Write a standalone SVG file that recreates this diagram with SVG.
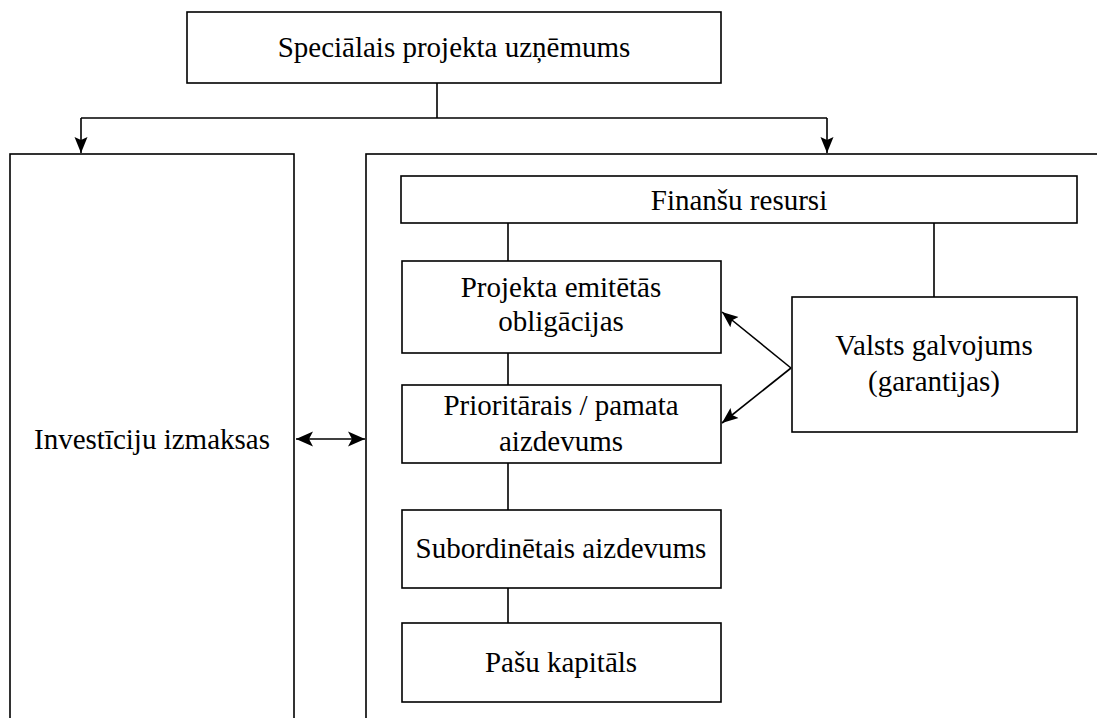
<svg xmlns="http://www.w3.org/2000/svg" width="1097" height="718" viewBox="0 0 1097 718">
<style>
.box{fill:#fff;stroke:#000;stroke-width:1.6}
.frame{fill:none;stroke:#000;stroke-width:1.6}
.ln{fill:none;stroke:#000;stroke-width:1.6}
.t{font-family:'Liberation Serif','Times New Roman',Times,'DejaVu Serif',serif;font-size:29px;fill:#000;text-anchor:middle}
</style>
<defs>
<marker id="ah" markerUnits="userSpaceOnUse" markerWidth="17" markerHeight="16" viewBox="0 0 17 16" refX="16" refY="8" orient="auto-start-reverse">
<path d="M0,1.5 L16,8 L0,14.5 L3,8 Z" fill="#000"/>
</marker>
<marker id="ahb" markerUnits="userSpaceOnUse" markerWidth="18" markerHeight="18" viewBox="0 0 18 18" refX="17" refY="9" orient="auto-start-reverse">
<path d="M0,1.5 L17,9 L0,16.5 L4,9 Z" fill="#000"/>
</marker>
</defs>
<g id="spv"><rect class="box" x="187" y="12" width="534" height="71"/><text class="t" x="454" y="57">Speciālais projekta uzņēmums</text></g>
<g id="invest"><rect class="frame" x="10" y="154" width="284" height="580"/><text class="t" x="152" y="449">Investīciju izmaksas</text></g>
<g id="fin-container"><rect class="frame" x="366" y="154" width="760" height="580"/></g>
<g id="finansu"><rect class="box" x="401" y="176" width="676" height="47"/><text class="t" x="739" y="210">Finanšu resursi</text></g>
<g id="obligacijas"><rect class="box" x="402" y="261" width="319" height="92"/><text class="t" x="561" y="297">Projekta emitētās</text><text class="t" x="561" y="331">obligācijas</text></g>
<g id="prioritarais"><rect class="box" x="402" y="385" width="319" height="78"/><text class="t" x="561" y="415">Prioritārais / pamata</text><text class="t" x="561" y="451">aizdevums</text></g>
<g id="subordinetais"><rect class="box" x="402" y="510" width="319" height="78"/><text class="t" x="561" y="558">Subordinētais aizdevums</text></g>
<g id="kapitals"><rect class="box" x="402" y="623" width="319" height="79"/><text class="t" x="561" y="672">Pašu kapitāls</text></g>
<g id="valsts"><rect class="box" x="792" y="297" width="285" height="135"/><text class="t" x="934" y="355">Valsts galvojums</text><text class="t" x="934" y="391">(garantijas)</text></g>
<g id="connectors">
<path class="ln" d="M437,83 V118 M81,118 H827"/>
<path class="ln" d="M81,118 V153" marker-end="url(#ah)"/>
<path class="ln" d="M827,118 V153" marker-end="url(#ah)"/>
<path class="ln" d="M508,223 V261 M508,353 V385 M508,463 V510 M508,588 V623 M934,223 V297"/>
<path class="ln" d="M791,368 L722,312" marker-end="url(#ah)"/>
<path class="ln" d="M791,368 L722,423" marker-end="url(#ah)"/>
<path class="ln" d="M296,439 H365" stroke-width="2.2" marker-start="url(#ahb)" marker-end="url(#ahb)"/>
</g>
</svg>
